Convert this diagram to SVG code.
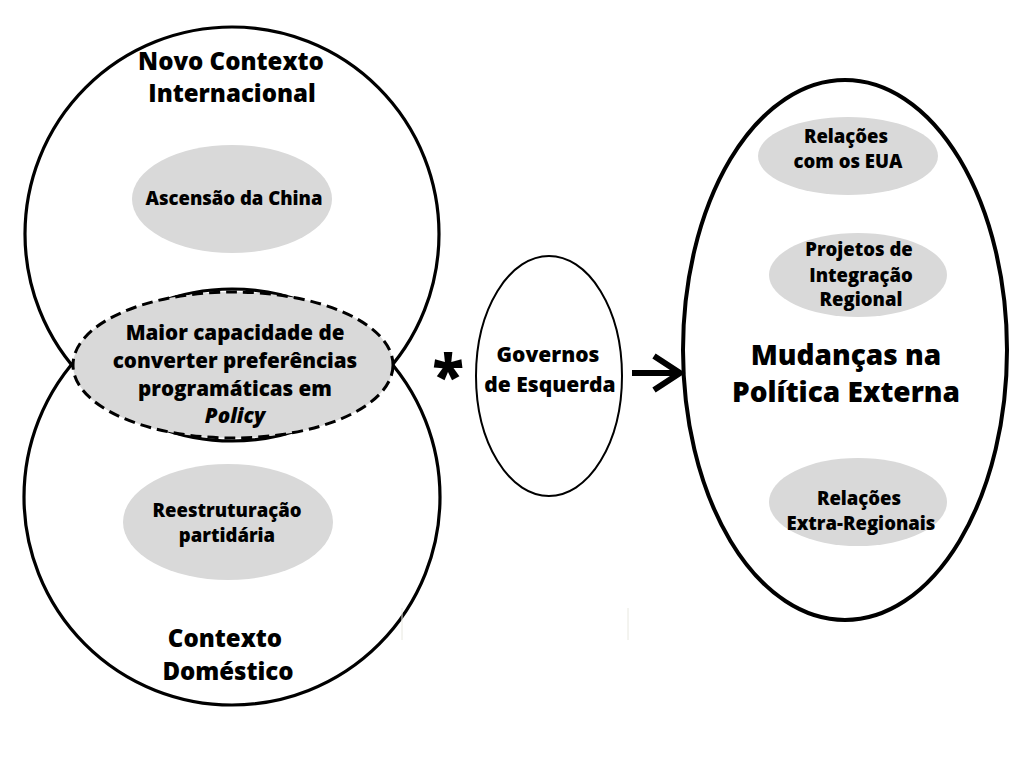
<svg xmlns="http://www.w3.org/2000/svg" width="1024" height="768" viewBox="0 0 1024 768">
<style>
text{font-family:"Open Sans","DejaVu Sans",sans-serif;font-weight:800;fill:#000;text-anchor:middle}
.big{stroke:#000;stroke-width:3.2;fill:none}
.gray{fill:#d9d9d9;stroke:none}
.t24{font-size:24px}
.t20{font-size:20.6px}
.t21{font-size:21px}
.t18{font-size:18.5px}
.t28{font-size:28px}
</style>
<rect width="1024" height="768" fill="#fff"/>
<g id="novo-contexto">
<circle class="big" cx="232" cy="234" r="207"/>
<text class="t24" x="231" y="70">Novo Contexto</text>
<text class="t24" x="232" y="102">Internacional</text>
</g>
<g id="contexto-domestico">
<circle class="big" cx="232" cy="497" r="208"/>
<text class="t24" x="225" y="647">Contexto</text>
<text class="t24" x="228" y="680">Doméstico</text>
</g>
<g id="ascensao">
<ellipse class="gray" cx="232" cy="199" rx="100" ry="54"/>
<text class="t18" x="234" y="205">Ascensão da China</text>
</g>
<g id="reestruturacao">
<ellipse class="gray" cx="228" cy="522" rx="105" ry="58"/>
<text class="t18" x="227" y="517">Reestruturação</text>
<text class="t18" x="227" y="542">partidária</text>
</g>
<g id="maior-capacidade">
<ellipse cx="233" cy="365" rx="160" ry="73" fill="#d9d9d9" stroke="#000" stroke-width="3" stroke-dasharray="11 6"/>
<text class="t20" x="235" y="340">Maior capacidade de</text>
<text class="t20" x="235" y="368">converter preferências</text>
<text class="t20" x="235" y="396">programáticas em</text>
<text class="t20" x="235" y="423" font-style="italic">Policy</text>
</g>
<g id="governos">
<ellipse cx="549" cy="376" rx="73" ry="120" fill="none" stroke="#000" stroke-width="2"/>
<text class="t21" x="548" y="362">Governos</text>
<text class="t21" x="550" y="392">de Esquerda</text>
</g>
<g id="mudancas">
<ellipse cx="845" cy="350" rx="162" ry="270" fill="none" stroke="#000" stroke-width="4"/>
<text class="t28" x="846" y="365">Mudanças na</text>
<text class="t28" x="846" y="402">Política Externa</text>
</g>
<g id="relacoes-eua">
<ellipse class="gray" cx="848" cy="156" rx="90" ry="39"/>
<text class="t18" x="846" y="143">Relações</text>
<text class="t18" x="848" y="168">com os EUA</text>
</g>
<g id="projetos">
<ellipse class="gray" cx="858" cy="275" rx="89" ry="42"/>
<text class="t18" x="859" y="256">Projetos de</text>
<text class="t18" x="861" y="282">Integração</text>
<text class="t18" x="861" y="306">Regional</text>
</g>
<g id="extra-regionais">
<ellipse class="gray" cx="858" cy="502" rx="89" ry="44"/>
<text class="t18" x="859" y="505">Relações</text>
<text class="t18" x="861" y="530">Extra-Regionais</text>
</g>
<g id="connectors">
<text x="448" y="397" style="font-size:58px;font-weight:800">*</text>
<line x1="632" y1="373" x2="679" y2="373" stroke="#000" stroke-width="6"/>
<polyline points="654,356 680,373 654,390" fill="none" stroke="#000" stroke-width="6"/>
<line x1="402" y1="608" x2="402" y2="640" stroke="#e8e8e0" stroke-width="1"/>
<line x1="628" y1="608" x2="628" y2="640" stroke="#e8e8e0" stroke-width="1"/>
</g>
</svg>
